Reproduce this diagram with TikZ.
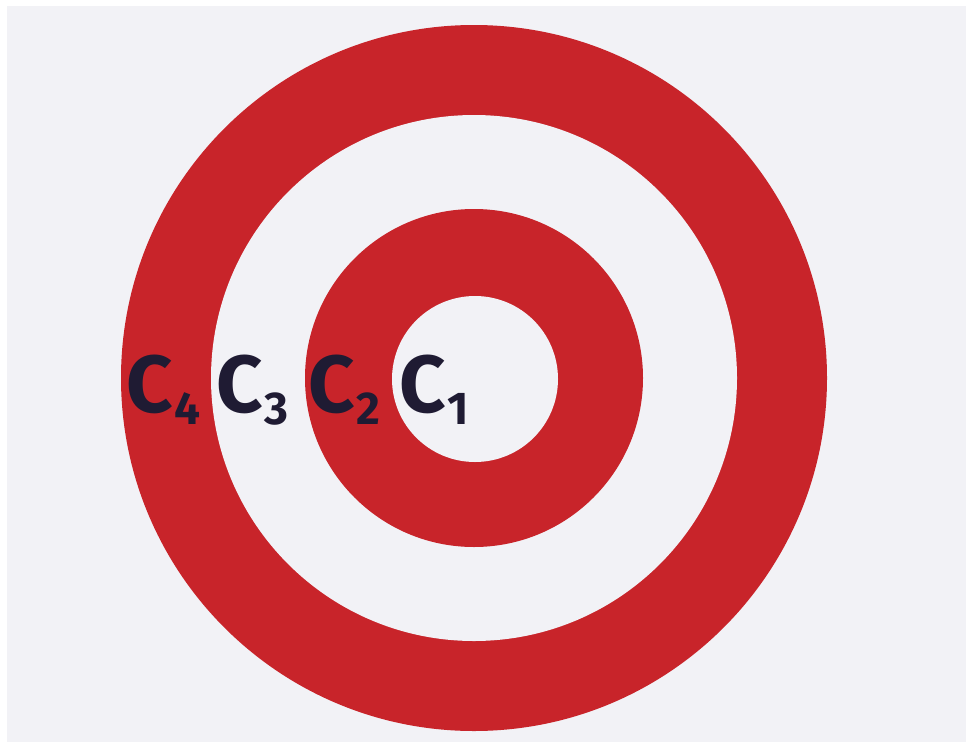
\documentclass[tikz,border=0pt]{standalone}
\usepackage{fontspec}
\setmainfont{Fira Sans}[BoldFont={* Bold}]
\definecolor{bgray}{HTML}{F2F2F6}
\definecolor{tred}{HTML}{C8242A}
\definecolor{navy}{HTML}{1F1B33}
\newcommand{\clab}[1]{\bfseries\fontsize{81}{81}\selectfont C\kern2pt\raisebox{-12pt}{\fontsize{46}{46}\selectfont #1}}
\tikzset{lab/.style={inner sep=0pt, anchor=base west, text=navy}}
\begin{document}
\begin{tikzpicture}[x=1pt,y=-1pt]
\useasboundingbox (0,0) rectangle (966,747);
\fill[white] (0,0) rectangle (966,747);
\fill[bgray] (7,6) rectangle (966,742);
\fill[tred] (474,378) circle (353);
\fill[bgray] (474,378) circle (263);
\fill[tred] (474,378) circle (169);
\fill[bgray] (475,379) circle (83);
\node[lab] (c4) at (126,412) {\clab{4}};
\node[lab] (c3) at (216,412) {\clab{3}};
\node[lab] (c2) at (308,412) {\clab{2}};
\node[lab] (c1) at (399,412) {\clab{1}};
\end{tikzpicture}
\end{document}
